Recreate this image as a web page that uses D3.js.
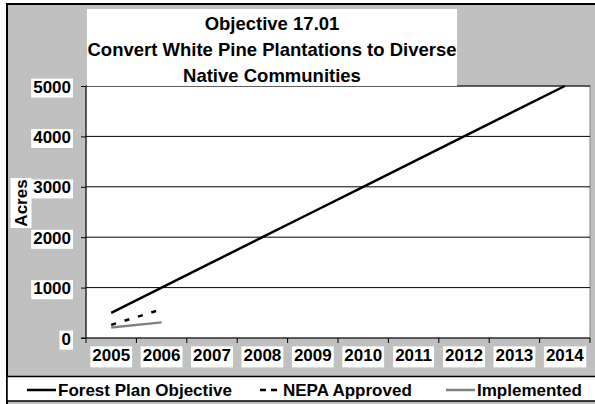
<!DOCTYPE html>
<html>
<head>
<meta charset="utf-8">
<script src="https://cdn.jsdelivr.net/npm/d3@7"></script>
<style>
  body { margin: 0; background: #fff; }
  text { font-family: "Liberation Sans", Arial, sans-serif; font-weight: bold; fill: #000; }
</style>
</head>
<body>
<script>
var years = ["2005", "2006", "2007", "2008", "2009", "2010", "2011", "2012", "2013", "2014"];
var forestPlan = [500, 1000, 1500, 2000, 2500, 3000, 3500, 4000, 4500, 5000];
var nepaApproved = [260, 570];
var implemented = [210, 310];
var yTicks = [0, 1000, 2000, 3000, 4000, 5000];
var titleLines = ["Objective 17.01", "Convert White Pine Plantations to Diverse", "Native Communities"];

var width = 595, height = 404;
var plot = { left: 86, right: 590, top: 86, bottom: 338 };

var svg = d3.select("body").append("svg")
  .attr("width", width)
  .attr("height", height);

// outer chart frame
svg.append("rect")
  .attr("x", 7).attr("y", 4)
  .attr("width", 600).attr("height", 420)
  .attr("fill", "#c0c0c0")
  .attr("stroke", "#000")
  .attr("stroke-width", 2);

var x = d3.scaleBand().domain(years).range([plot.left, plot.right]);
var y = d3.scaleLinear().domain([0, 5000]).range([plot.bottom, plot.top]);

// plot area
svg.append("rect")
  .attr("x", plot.left).attr("y", plot.top)
  .attr("width", plot.right - plot.left).attr("height", plot.bottom - plot.top)
  .attr("fill", "#fff")
  .attr("stroke", "#808080");

// gridlines
svg.append("g").selectAll("line")
  .data(yTicks.slice(1))
  .join("line")
    .attr("x1", plot.left).attr("x2", plot.right)
    .attr("y1", function(d) { return y(d); })
    .attr("y2", function(d) { return y(d); })
    .attr("stroke", "#000");

// y axis
var yAxis = svg.append("g")
  .attr("transform", "translate(" + plot.left + ",0)")
  .call(d3.axisLeft(y).tickValues(yTicks).tickSize(5).tickPadding(10).tickFormat(d3.format("d")));
yAxis.select(".domain").attr("stroke", "#000").attr("d", "M0," + plot.top + "V" + plot.bottom);
yAxis.selectAll("text")
  .attr("font-size", 17)
  .attr("font-family", null)
  .attr("dy", "0.36em");
yAxis.selectAll(".tick").each(function() {
  var t = d3.select(this).select("text");
  var b = t.node().getBBox();
  d3.select(this).insert("rect", "text")
    .attr("x", b.x - 2).attr("y", b.y + 1)
    .attr("width", b.width + 4).attr("height", b.height)
    .attr("fill", "#fff");
});

// x axis (labels centred in bands, ticks on band edges)
var xAxis = svg.append("g")
  .attr("transform", "translate(0," + plot.bottom + ")")
  .call(d3.axisBottom(x).tickSize(0).tickPadding(20));
xAxis.select(".domain").remove();
xAxis.selectAll("text")
  .attr("font-size", 17)
  .attr("font-family", null)
  .attr("dy", "0.2em");
xAxis.selectAll(".tick").each(function() {
  var t = d3.select(this).select("text");
  var b = t.node().getBBox();
  d3.select(this).insert("rect", "text")
    .attr("x", b.x - 2).attr("y", b.y)
    .attr("width", b.width + 4).attr("height", b.height + 2)
    .attr("fill", "#fff");
});
var edges = years.map(function(d) { return x(d); }).concat([plot.right]);
svg.append("g").selectAll("line")
  .data(edges)
  .join("line")
    .attr("x1", function(d) { return d; }).attr("x2", function(d) { return d; })
    .attr("y1", plot.bottom).attr("y2", plot.bottom + 5)
    .attr("stroke", "#000");
svg.append("line")
  .attr("x1", plot.left - 5).attr("x2", plot.right)
  .attr("y1", plot.bottom).attr("y2", plot.bottom)
  .attr("stroke", "#000");

// series lines
var line = d3.line()
  .x(function(d, i) { return x(years[i]) + x.bandwidth() / 2; })
  .y(function(d) { return y(d); });

svg.append("path")
  .datum(implemented)
  .attr("d", line)
  .attr("fill", "none")
  .attr("stroke", "#808080")
  .attr("stroke-width", 2.5);

svg.append("path")
  .datum(nepaApproved)
  .attr("d", line)
  .attr("fill", "none")
  .attr("stroke", "#000")
  .attr("stroke-width", 2.5)
  .attr("stroke-dasharray", "5,9");

svg.append("path")
  .datum(forestPlan)
  .attr("d", line)
  .attr("fill", "none")
  .attr("stroke", "#000")
  .attr("stroke-width", 2.5);

// title
var title = svg.append("g");
title.append("rect")
  .attr("x", 87).attr("y", 9)
  .attr("width", 370).attr("height", 77)
  .attr("fill", "#fff");
title.selectAll("text")
  .data(titleLines)
  .join("text")
    .attr("x", 272)
    .attr("y", function(d, i) { return 30 + i * 26; })
    .attr("text-anchor", "middle")
    .attr("font-size", 18.5)
    .text(function(d) { return d; });

// y axis title
var yTitle = svg.append("g").attr("transform", "translate(21,203) rotate(-90)");
yTitle.append("rect")
  .attr("x", -25).attr("y", -10.5)
  .attr("width", 50).attr("height", 21)
  .attr("fill", "#fff");
yTitle.append("text")
  .attr("text-anchor", "middle")
  .attr("dy", "0.36em")
  .attr("font-size", 17)
  .text("Acres");

// legend
var legend = svg.append("g");
legend.append("rect")
  .attr("x", 7).attr("y", 376.5)
  .attr("width", 600).attr("height", 24.5)
  .attr("fill", "#fff")
  .attr("stroke", "#000")
  .attr("stroke-width", 1.5);

var legendItems = [
  { name: "Forest Plan Objective", x: 27, len: 29, color: "#000", dash: null, tx: 58 },
  { name: "NEPA Approved", x: 260, len: 17, color: "#000", dash: "6,5", tx: 283 },
  { name: "Implemented", x: 446, len: 29, color: "#808080", dash: null, tx: 477 }
];
legendItems.forEach(function(d) {
  legend.append("line")
    .attr("x1", d.x).attr("x2", d.x + d.len)
    .attr("y1", 390).attr("y2", 390)
    .attr("stroke", d.color)
    .attr("stroke-width", 2.5)
    .attr("stroke-dasharray", d.dash);
  legend.append("text")
    .attr("x", d.tx).attr("y", 396)
    .attr("font-size", 17)
    .text(d.name);
});
</script>
</body>
</html>
